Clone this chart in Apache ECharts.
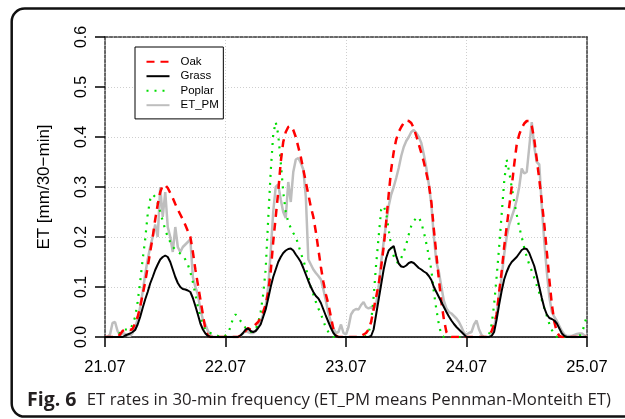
<!DOCTYPE html>
<html>
<head>
<meta charset="utf-8">
<title>ET rates</title>
<script src="https://cdn.jsdelivr.net/npm/echarts@6/dist/echarts.min.js"></script>
<style>
html, body { margin: 0; padding: 0; background: #fff; }
#etChart { width: 625px; height: 419px; }
</style>
</head>
<body>
<div id="etChart"></div>
<script>
// tick labels of the time axis (one per day)
var dayLabels = ['21.07', '22.07', '23.07', '24.07', '25.07'];
var stepsPerDay = 48; // 30-min values

var seriesNames = ['Oak', 'Grass', 'Poplar', 'ET_PM'];

// ET [mm/30-min], 30-min steps starting 21.07 00:00
var oak = [
    0, 0, 0, 0, 0, 0, 0.005, 0.012, 0.015, 0.015, 0.014, 0.016, 0.027, 0.04, 0.06, 0.085, 0.11, 0.14, 0.17, 0.2, 0.235, 0.265, 0.29, 0.303,
    0.304, 0.298, 0.288, 0.278, 0.266, 0.255, 0.245, 0.235, 0.224, 0.212, 0.2, 0.17, 0.135, 0.105, 0.075, 0.045, 0.015, 0.003, 0, 0, 0, 0, 0, 0,
    0, 0, 0, 0, 0, 0, 0.003, 0.008, 0.012, 0.018, 0.015, 0.02, 0.025, 0.03, 0.038, 0.05, 0.065, 0.09, 0.13, 0.19, 0.24, 0.29, 0.35, 0.39,
    0.41, 0.42, 0.422, 0.414, 0.4, 0.38, 0.36, 0.335, 0.31, 0.285, 0.26, 0.24, 0.21, 0.175, 0.14, 0.11, 0.085, 0.065, 0.04, 0.015, 0.003, 0, 0, 0,
    0, 0, 0, 0, 0, 0, 0.002, 0.005, 0.008, 0.015, 0.03, 0.055, 0.08, 0.105, 0.14, 0.18, 0.23, 0.285, 0.335, 0.37, 0.395, 0.41, 0.42, 0.428,
    0.433, 0.432, 0.428, 0.418, 0.402, 0.385, 0.368, 0.35, 0.328, 0.305, 0.27, 0.215, 0.165, 0.115, 0.07, 0.035, 0.01, 0.002, 0, 0, 0, 0, 0, 0,
    0, 0, 0, 0, 0, 0, 0, 0, 0, 0.003, 0.012, 0.025, 0.045, 0.09, 0.13, 0.18, 0.22, 0.26, 0.3, 0.345, 0.385, 0.405, 0.418, 0.427,
    0.432, 0.432, 0.422, 0.395, 0.355, 0.315, 0.27, 0.225, 0.17, 0.115, 0.065, 0.03, 0.01, 0.002, 0, 0, 0, 0, 0, 0, 0, 0, 0, 0,
    0
];
var grass = [
    0, 0, 0, 0, 0, 0, 0, 0, 0.003, 0.005, 0.007, 0.01, 0.014, 0.025, 0.04, 0.058, 0.075, 0.09, 0.107, 0.12, 0.134, 0.145, 0.155, 0.16,
    0.163, 0.16, 0.15, 0.135, 0.12, 0.108, 0.1, 0.096, 0.095, 0.093, 0.09, 0.078, 0.062, 0.045, 0.027, 0.015, 0.007, 0.002, 0, 0, 0, 0, 0, 0,
    0, 0, 0, 0, 0, 0, 0.003, 0.008, 0.015, 0.017, 0.012, 0.01, 0.012, 0.018, 0.025, 0.04, 0.055, 0.077, 0.1, 0.12, 0.135, 0.15, 0.16, 0.168,
    0.173, 0.176, 0.177, 0.173, 0.165, 0.158, 0.15, 0.138, 0.125, 0.112, 0.1, 0.09, 0.082, 0.077, 0.068, 0.055, 0.042, 0.03, 0.018, 0.008, 0.002, 0, 0, 0,
    0, 0, 0, 0, 0, 0, 0, 0, 0, 0, 0.002, 0.015, 0.045, 0.075, 0.105, 0.135, 0.158, 0.173, 0.178, 0.182, 0.162, 0.147, 0.141, 0.14,
    0.143, 0.148, 0.15, 0.148, 0.143, 0.138, 0.135, 0.131, 0.128, 0.122, 0.114, 0.1, 0.09, 0.08, 0.07, 0.06, 0.05, 0.041, 0.033, 0.026, 0.02, 0.015, 0.01, 0.005,
    0, 0, 0, 0, 0, 0, 0, 0, 0, 0, 0.002, 0.01, 0.035, 0.065, 0.092, 0.115, 0.13, 0.142, 0.15, 0.155, 0.16, 0.167, 0.174, 0.177,
    0.176, 0.168, 0.155, 0.142, 0.122, 0.1, 0.078, 0.058, 0.045, 0.038, 0.036, 0.033, 0.027, 0.017, 0.007, 0.002, 0, 0, 0, 0, 0, 0, 0, 0,
    0
];
var poplar = [
    0, 0, 0, 0, 0, 0, 0.01, 0.015, 0.015, 0.015, 0.015, 0.025, 0.04, 0.07, 0.11, 0.155, 0.195, 0.245, 0.275, 0.285, 0.28, 0.268, 0.25, 0.232,
    0.215, 0.2, 0.19, 0.18, 0.175, 0.17, 0.167, 0.163, 0.155, 0.145, 0.13, 0.11, 0.085, 0.06, 0.04, 0.025, 0.015, 0.01, 0.008, 0.005, 0.004, 0.002, 0, 0,
    0.003, 0.008, 0.02, 0.038, 0.045, 0.04, 0.032, 0.026, 0.018, 0.014, 0.01, 0.01, 0.015, 0.028, 0.05, 0.085, 0.135, 0.235, 0.33, 0.405, 0.43, 0.405, 0.35, 0.29,
    0.25, 0.23, 0.218, 0.208, 0.2, 0.185, 0.168, 0.153, 0.138, 0.12, 0.1, 0.085, 0.07, 0.057, 0.046, 0.032, 0.018, 0.01, 0.004, 0, 0, 0, 0, 0,
    0, 0, 0, 0, 0, 0, 0, 0, 0.002, 0.008, 0.03, 0.08, 0.145, 0.2, 0.255, 0.262, 0.248, 0.215, 0.18, 0.162, 0.15, 0.148, 0.158, 0.17,
    0.185, 0.205, 0.222, 0.232, 0.238, 0.24, 0.228, 0.21, 0.187, 0.162, 0.134, 0.09, 0.055, 0.025, 0.004, 0, 0, 0, 0, 0, 0, 0, 0, 0,
    0, 0, 0, 0, 0, 0, 0, 0, 0, 0.005, 0.025, 0.065, 0.12, 0.18, 0.245, 0.31, 0.355, 0.33, 0.3, 0.27, 0.245, 0.22, 0.2, 0.178,
    0.16, 0.145, 0.132, 0.118, 0.103, 0.088, 0.074, 0.058, 0.042, 0.026, 0.014, 0.005, 0, 0, 0, 0, 0, 0, 0, 0, 0, 0.002, 0.008, 0.025,
    0.045
];
var etPM = [
    0, 0, 0.005, 0.028, 0.03, 0.012, 0.003, 0.008, 0.006, 0.003, 0.002, 0.008, 0.02, 0.035, 0.06, 0.09, 0.125, 0.155, 0.18, 0.2, 0.225, 0.2, 0.3, 0.24,
    0.29, 0.22, 0.2, 0.17, 0.22, 0.18, 0.17, 0.18, 0.185, 0.19, 0.195, 0.12, 0.1, 0.085, 0.055, 0.035, 0.025, 0.012, 0.004, 0, 0, 0, 0, 0,
    0, 0, 0, 0, 0, 0, 0.003, 0.008, 0.012, 0.01, 0.008, 0.008, 0.012, 0.02, 0.03, 0.045, 0.06, 0.1, 0.17, 0.25, 0.3, 0.305, 0.275, 0.25,
    0.238, 0.31, 0.27, 0.33, 0.355, 0.358, 0.348, 0.335, 0.28, 0.155, 0.145, 0.135, 0.128, 0.122, 0.115, 0.095, 0.072, 0.048, 0.03, 0.017, 0.008, 0.01, 0.025, 0.008,
    0.005, 0.02, 0.045, 0.053, 0.056, 0.055, 0.064, 0.07, 0.06, 0.057, 0.06, 0.055, 0.065, 0.1, 0.15, 0.19, 0.228, 0.262, 0.285, 0.3, 0.318, 0.338, 0.362, 0.38,
    0.392, 0.4, 0.41, 0.414, 0.408, 0.4, 0.388, 0.365, 0.338, 0.305, 0.265, 0.2, 0.15, 0.13, 0.1, 0.072, 0.057, 0.05, 0.047, 0.042, 0.037, 0.03, 0.02, 0.008,
    0.005, 0.008, 0.01, 0.025, 0.033, 0.015, 0.004, 0, 0, 0, 0.003, 0.02, 0.045, 0.085, 0.12, 0.165, 0.2, 0.225, 0.24, 0.255, 0.274, 0.3, 0.337, 0.327,
    0.33, 0.38, 0.43, 0.38, 0.35, 0.345, 0.26, 0.19, 0.13, 0.08, 0.05, 0.04, 0.032, 0.022, 0.012, 0.005, 0.002, 0.002, 0.002, 0.004, 0.006, 0.007, 0.007, 0.003,
    0.002
];

var axisFont = 'Liberation Sans';

function toPoints(values) {
    return values.map(function (v, i) { return [i / stepsPerDay, v]; });
}

var etChart = echarts.init(document.getElementById('etChart'), null, { renderer: 'canvas' });

var getEtOption = function () {
    var borderLine = { show: true, onZero: false, lineStyle: { color: '#3a3a3a', width: 1.5, type: [3, 1.5] } };
    var gridDots = { show: true, lineStyle: { color: '#cfcfcf', width: 1, type: [1, 2] } };
    return {
        animation: false,
        backgroundColor: '#fff',
        textStyle: { fontFamily: axisFont },
        grid: { left: 105, top: 37, width: 482, height: 300, containLabel: false },
        graphic: [
            {
                // rounded frame around figure + caption
                type: 'rect', silent: true, z: 0,
                shape: { x: 11.7, y: 8.6, width: 640, height: 408, r: 13 },
                style: { fill: null, stroke: '#111', lineWidth: 2.5 }
            },
            {
                type: 'text', silent: true, z: 1,
                x: 27, y: 400,
                style: {
                    text: '{b|Fig. 6} ET rates in 30-min frequency (ET_PM means Pennman-Monteith ET)',
                    fontFamily: 'Open Sans', fontSize: 16.75, fill: '#231f20',
                    verticalAlign: 'middle',
                    rich: { b: { fontFamily: 'Open Sans', fontSize: 19.5, fontWeight: 'bold', fill: '#231f20', padding: [0, 6, 0, 0] } }
                }
            }
        ],
        legend: {
            orient: 'vertical', left: 135, top: 47,
            data: seriesNames,
            itemWidth: 23, itemHeight: 12, itemGap: 2.5,
            padding: [8.7, 4.5, 7.7, 10.5],
            borderColor: '#000', borderWidth: 1, backgroundColor: '#fff',
            itemStyle: { opacity: 0 },
            textStyle: { fontFamily: axisFont, fontSize: 11.5, color: '#000', padding: [0, 0, 0, 6] }
        },
        xAxis: [
            {
                type: 'value', position: 'bottom', min: 0, max: 4, interval: 1,
                axisLine: { show: true, onZero: false, lineStyle: { color: '#000', width: 1.5 } },
                axisTick: { show: true, length: 10, lineStyle: { color: '#000', width: 1.5 } },
                axisLabel: {
                    color: '#000', fontSize: 16.5, fontFamily: axisFont, margin: 22,
                    formatter: function (v) { return dayLabels[Math.round(v)]; }
                },
                splitLine: gridDots
            },
            {
                type: 'value', position: 'top', min: 0, max: 4, interval: 1,
                axisLine: borderLine, axisTick: { show: false }, axisLabel: { show: false }, splitLine: { show: false }
            }
        ],
        yAxis: [
            {
                type: 'value', position: 'left', min: 0, max: 0.6, interval: 0.1,
                name: 'ET [mm/30\u2212min]', nameLocation: 'middle', nameGap: 52, nameRotate: 90,
                nameTextStyle: { color: '#000', fontSize: 17, fontFamily: axisFont },
                axisLine: borderLine,
                axisTick: { show: true, length: 10, lineStyle: { color: '#000', width: 1.5, type: 'solid' } },
                axisLabel: {
                    color: '#000', fontSize: 16, fontFamily: axisFont, rotate: 90, margin: 15,
                    formatter: function (v) { return v.toFixed(1); }
                },
                splitLine: gridDots
            },
            {
                type: 'value', position: 'right', min: 0, max: 0.6, interval: 0.1,
                axisLine: borderLine, axisTick: { show: false }, axisLabel: { show: false }, splitLine: { show: false }
            }
        ],
        series: [
            {
                name: 'ET_PM', type: 'line', z: 2, symbol: 'none', data: toPoints(etPM),
                itemStyle: { color: '#bebebe' },
                lineStyle: { color: '#bebebe', width: 2.5 }
            },
            {
                name: 'Poplar', type: 'line', z: 3, symbol: 'none', data: toPoints(poplar),
                itemStyle: { color: '#00dd00' },
                lineStyle: { color: '#00dd00', width: 2.2, type: [2, 6] }
            },
            {
                name: 'Oak', type: 'line', z: 4, symbol: 'none', data: toPoints(oak),
                itemStyle: { color: '#ff0000' },
                lineStyle: { color: '#ff0000', width: 2.5, type: [8, 6] }
            },
            {
                name: 'Grass', type: 'line', z: 5, symbol: 'none', data: toPoints(grass),
                itemStyle: { color: '#000' },
                lineStyle: { color: '#000', width: 2 }
            }
        ]
    };
};
etChart.setOption(getEtOption());
</script>
</body>
</html>
